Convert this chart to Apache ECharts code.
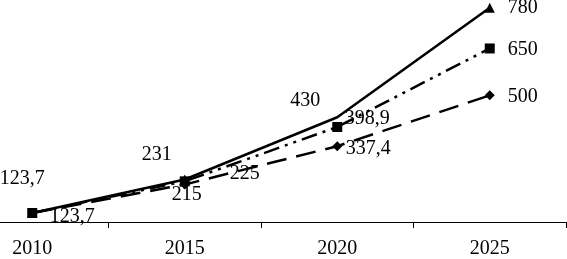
<!DOCTYPE html>
<html>
<head>
<meta charset="utf-8">
<script src="https://cdn.jsdelivr.net/npm/echarts@6/dist/echarts.min.js"></script>
<style>
html,body{margin:0;padding:0;background:#fff;overflow:hidden;width:567px;height:259px;}
#wrap{position:relative;width:567px;height:259px;overflow:hidden;}
#c{position:absolute;left:-44px;top:0;width:611px;height:259px;}
</style>
</head>
<body>
<div id="wrap"><div id="c"></div></div>
<script>
var categories = ['2010', '2015', '2020', '2025'];
var seriesSolid = [123.7, 231, 430, 780];
var seriesDashDot = [123.7, 225, 398.9, 650];
var seriesDashed = [123.7, 215, 337.4, 500];

var offsSolid = [[-10, -34], [-28, -25], [-32, -17], [33, 0]];
var offsDashDot = [[40, 4], [60, -8], [30, -8], [33, 1]];
var offsDashed = [null, [2, 10], [31, 3], [33, 1]];
var hiddenSolidMarks = [false, false, true, false];

var font = 'Liberation Serif';
function fmt(v) { return String(v).replace('.', ','); }

function build(vals, offs, hide) {
  return vals.map(function (v, i) {
    var o = offs[i];
    var d = {
      value: v,
      label: o ? { show: true, position: 'inside', offset: o } : { show: false }
    };
    if (hide && hide[i]) d.symbolSize = 0.01;
    return d;
  });
}

function mk(name, vals, offs, type, symbol, size, hide) {
  return {
    name: name,
    type: 'line',
    data: build(vals, offs, hide),
    symbol: symbol,
    symbolSize: size,
    showSymbol: true,
    itemStyle: { color: '#000' },
    lineStyle: { color: '#000', width: 2.5, type: type },
    label: {
      show: true,
      color: '#000',
      fontFamily: font,
      fontSize: 20,
      formatter: function (p) { return fmt(p.value); }
    },
    animation: false,
    z: 3
  };
}

var chart = echarts.init(document.getElementById('c'), null, { renderer: 'canvas' });
chart.setOption({
  backgroundColor: '#fff',
  animation: false,
  grid: { left: 0, right: 1, top: 0, bottom: 33, containLabel: false },
  xAxis: {
    type: 'category',
    data: categories,
    boundaryGap: true,
    axisLine: { show: true, lineStyle: { color: '#000', width: 1 } },
    axisTick: { show: true, inside: false, length: 6, lineStyle: { color: '#000' } },
    axisLabel: { color: '#000', fontFamily: font, fontSize: 20, margin: 17 },
    splitLine: { show: false }
  },
  yAxis: {
    type: 'value',
    min: 95,
    max: 805,
    show: false,
    splitLine: { show: false }
  },
  series: [
    mk('A', seriesSolid, offsSolid, 'solid', 'triangle', 10, hiddenSolidMarks),
    mk('C', seriesDashed, offsDashed, [20, 10], 'diamond', 10),
    mk('B', seriesDashDot, offsDashDot, [16, 6, 3, 6, 3, 6], 'rect', 10)
  ]
});
</script>
</body>
</html>
